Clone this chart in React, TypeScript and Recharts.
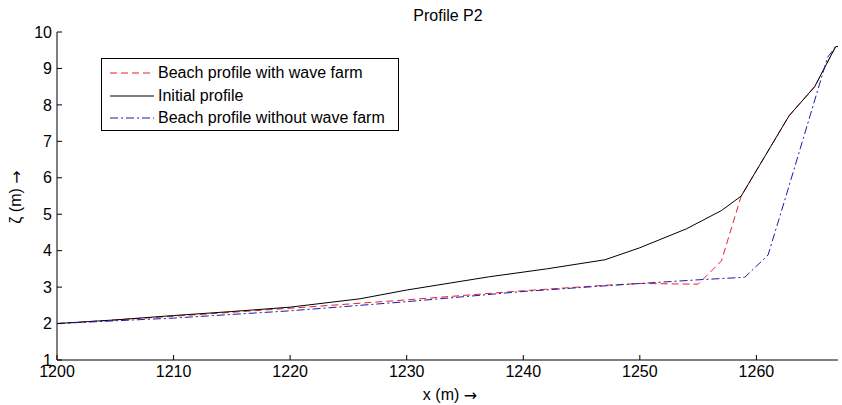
import React from 'react';
import { LineChart, Line, XAxis, YAxis, Legend } from 'recharts';

// profile P2: x (m) vs bed level (m)
const initialX = [1200, 1205, 1210, 1215, 1220, 1226, 1230, 1237, 1242, 1247, 1250, 1254, 1257, 1258.7, 1262.8, 1265, 1266.8, 1267];
const initialZ = [2.0, 2.1, 2.22, 2.33, 2.45, 2.68, 2.92, 3.28, 3.5, 3.75, 4.08, 4.6, 5.1, 5.5, 7.7, 8.5, 9.6, 9.6];

const withFarmX = [1200, 1210, 1220, 1230, 1240, 1247, 1250, 1255, 1257, 1258.7, 1262.8, 1265, 1266.8, 1267];
const withFarmZ = [2.0, 2.2, 2.42, 2.65, 2.9, 3.05, 3.1, 3.08, 3.72, 5.5, 7.7, 8.5, 9.6, 9.6];

const withoutFarmX = [1200, 1210, 1220, 1230, 1240, 1250, 1255, 1259, 1261, 1262.4, 1266.1, 1266.8, 1267];
const withoutFarmZ = [2.0, 2.15, 2.35, 2.6, 2.88, 3.1, 3.2, 3.27, 3.88, 5.35, 9.3, 9.6, 9.6];

const seriesNames = ['Beach profile with wave farm', 'Initial profile', 'Beach profile without wave farm'];

const xTicks = [1200, 1210, 1220, 1230, 1240, 1250, 1260];
const yTicks = [1, 2, 3, 4, 5, 6, 7, 8, 9, 10];

const toRows = (xs: number[], zs: number[]) => xs.map((x, i) => ({ x, z: zs[i] }));

const FONT = '"Liberation Sans", Arial, sans-serif';
const ARROW_FONT = '"DejaVu Sans", sans-serif';

const LegendBox = ({ payload }: any) => {
  const items = [...(payload || [])].sort((a: any, b: any) => seriesNames.indexOf(a.value) - seriesNames.indexOf(b.value));
  return (
    <div
      style={{
        border: '1px solid #000',
        background: '#fff',
        width: 298,
        height: 73,
        boxSizing: 'border-box',
        padding: '3px 0 0 8px',
        fontFamily: FONT,
        fontSize: 16,
        lineHeight: '22.5px',
        color: '#000',
      }}
    >
      {items.map((p: any) => (
        <div key={p.value} style={{ display: 'flex', alignItems: 'center' }}>
          <svg width={44} height={10} style={{ marginRight: 4 }}>
            <line x1={0} y1={5} x2={44} y2={5} stroke={p.color} strokeWidth={1} strokeDasharray={p.payload.strokeDasharray} />
          </svg>
          <span>{p.value}</span>
        </div>
      ))}
    </div>
  );
};

const App: React.FC = () => {
  return (
    <div style={{ position: 'absolute', left: 0, top: 0, background: '#fff' }}>
      <LineChart width={842} height={405} margin={{ top: 32, right: 4, left: 0, bottom: 15 }}>
        <text x={448} y={17} textAnchor="middle" dominantBaseline="middle" fontFamily={FONT} fontSize={16} fill="#000">
          Profile P2
        </text>
        <text x={450} y={396} textAnchor="middle" dominantBaseline="middle" fontFamily={FONT} fontSize={16} fill="#000">
          x (m) <tspan fontFamily={ARROW_FONT}>→</tspan>
        </text>
        <text
          x={17}
          y={197}
          textAnchor="middle"
          dominantBaseline="middle"
          transform="rotate(-90 17 197)"
          fontFamily={FONT}
          fontSize={16}
          fill="#000"
        >
          ζ (m) <tspan fontFamily={ARROW_FONT}>→</tspan>
        </text>
        <XAxis
          type="number"
          dataKey="x"
          domain={[1200, 1267]}
          ticks={xTicks}
          allowDataOverflow
          stroke="#000"
          tickSize={-5}
          tickMargin={11}
          tick={{ fill: '#000', fontSize: 16, fontFamily: FONT }}
        />
        <YAxis
          type="number"
          dataKey="z"
          domain={[1, 10]}
          ticks={yTicks}
          width={57}
          stroke="#000"
          tickSize={-5}
          tickMargin={10}
          tick={{ fill: '#000', fontSize: 16, fontFamily: FONT }}
        />
        <Legend
          layout="vertical"
          verticalAlign="middle"
          align="center"
          wrapperStyle={{ position: 'absolute', left: 101, top: 58, width: 298 }}
          content={<LegendBox />}
        />
        <Line
          data={toRows(withFarmX, withFarmZ)}
          dataKey="z"
          name={seriesNames[0]}
          stroke="#e8202a"
          strokeWidth={1}
          strokeDasharray="7 4"
          dot={false}
          isAnimationActive={false}
        />
        <Line
          data={toRows(initialX, initialZ)}
          dataKey="z"
          name={seriesNames[1]}
          stroke="#000"
          strokeWidth={1}
          dot={false}
          isAnimationActive={false}
        />
        <Line
          data={toRows(withoutFarmX, withoutFarmZ)}
          dataKey="z"
          name={seriesNames[2]}
          stroke="#1c1ca8"
          strokeWidth={1}
          strokeDasharray="8 3 2 3"
          dot={false}
          isAnimationActive={false}
        />
      </LineChart>
    </div>
  );
};

export default App;
